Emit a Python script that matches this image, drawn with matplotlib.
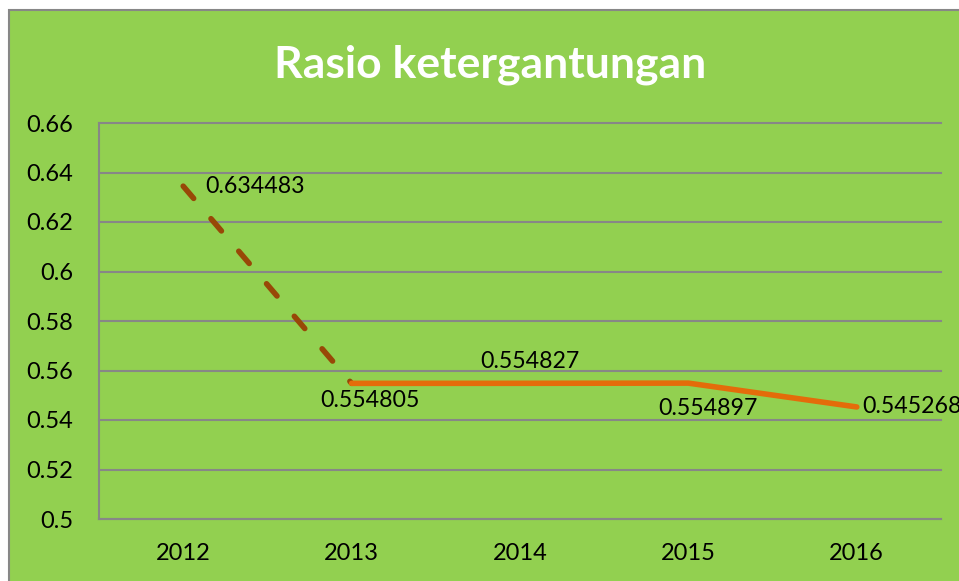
import matplotlib.pyplot as plt
from matplotlib.patches import Rectangle

years = ["2012", "2013", "2014", "2015", "2016"]
ratio = [0.634483, 0.554805, 0.554827, 0.554897, 0.545268]
y_ticks = [0.5, 0.52, 0.54, 0.56, 0.58, 0.6, 0.62, 0.64, 0.66]
y_tick_labels = ["0.5", "0.52", "0.54", "0.56", "0.58", "0.6", "0.62", "0.64", "0.66"]

green = "#92D050"
grid_gray = "#878787"
orange = "#E46C0A"
brown = "#984807"

plt.rcParams["font.family"] = ["Lato", "DejaVu Sans"]

fig = plt.figure(figsize=(9.59, 5.81), dpi=100)
fig.patch.set_facecolor("white")
# green chart area, cut off at right and bottom
fig.patches.append(Rectangle((9 / 959, -0.05), 1.0, 1 - 10 / 581 + 0.05,
                             transform=fig.transFigure, facecolor=green,
                             edgecolor=grid_gray, linewidth=1.5, zorder=-5))

ax = fig.add_axes([99 / 959, 1 - 519 / 581, 842 / 959, 396 / 581])
ax.set_zorder(2)
ax.patch.set_alpha(0)

x = list(range(len(years)))
ax.plot(x[:2], ratio[:2], color=brown, linewidth=4, linestyle=(0, (2.9, 4.8)),
        dash_capstyle="round", zorder=3)
ax.plot(x[1:], ratio[1:], color=orange, linewidth=4, solid_capstyle="round", zorder=3)

ax.set_xlim(-0.5, len(years) - 0.5)
ax.set_ylim(0.5, 0.66)
ax.set_yticks(y_ticks)
ax.set_yticklabels(y_tick_labels)
ax.set_xticks(x)
ax.set_xticklabels(years)
ax.yaxis.grid(True, color=grid_gray, linewidth=1.5)
for gl in ax.get_ygridlines():
    gl.set_clip_on(False)
ax.set_axisbelow(True)
ax.tick_params(length=0, labelsize=17, pad=0)
ax.tick_params(axis="y", pad=18.5)
ax.tick_params(axis="x", pad=17)
for side in ["top", "right"]:
    ax.spines[side].set_visible(False)
for side in ["left", "bottom"]:
    ax.spines[side].set_color(grid_gray)
    ax.spines[side].set_linewidth(1.5)

# data labels (offsets in points)
offsets = [(16, 0, "left"), (13, -12, "center"), (7, 16, "center"),
           (14, -18, "center"), (4, 0, "left")]
for xi, yi, (dx, dy, ha) in zip(x, ratio, offsets):
    ax.annotate(f"{yi:.6f}".rstrip("0"), (xi, yi), xytext=(dx, dy),
                textcoords="offset points", ha=ha, va="center",
                fontsize=16.7, color="black", annotation_clip=False, zorder=4)

fig.text(490 / 959, 1 - 65 / 581, "Rasio ketergantungan", ha="center", va="center",
         fontsize=32, fontweight="bold", color="white")

fig.savefig("out.png", dpi=100)
